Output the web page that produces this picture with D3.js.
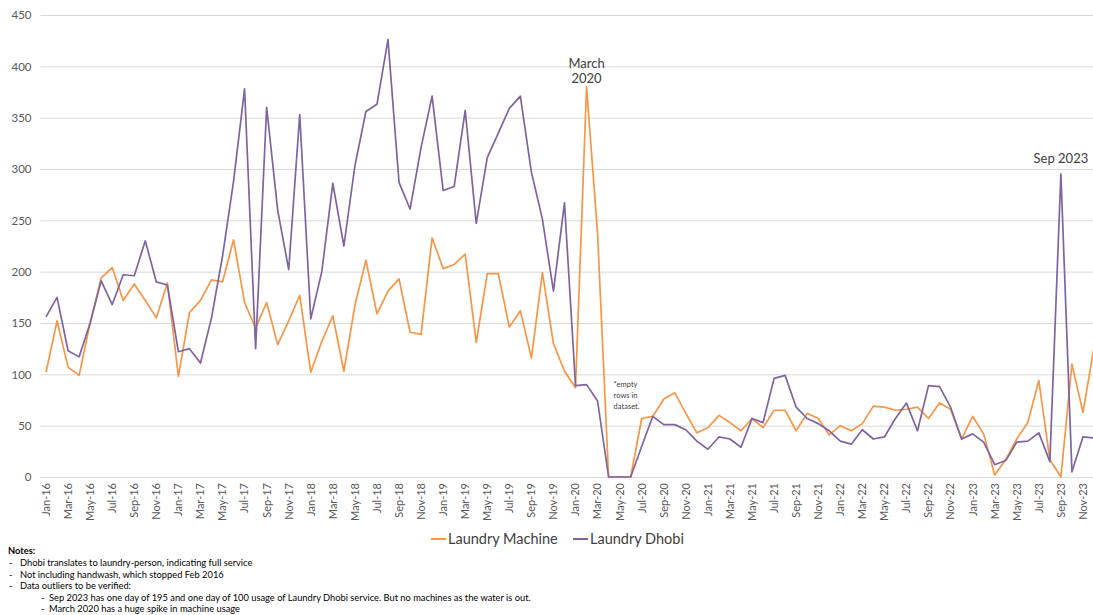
<!DOCTYPE html>
<html>
<head>
<meta charset="utf-8">
<script src="https://cdn.jsdelivr.net/npm/d3@7"></script>
<style>
  html, body { margin: 0; padding: 0; background: #fff; }
  svg { display: block; font-family: Lato, "Open Sans", sans-serif; }
</style>
</head>
<body>
<svg id="chart" width="1093" height="615"></svg>
<script>
// ---- data ----
const months = (function () {
  const m = ["Jan","Feb","Mar","Apr","May","Jun","Jul","Aug","Sep","Oct","Nov","Dec"];
  const out = [];
  for (let y = 16; y <= 23; y++) for (const mm of m) out.push(mm + "-" + y);
  return out;
})();

const laundryMachine = [
  // 2016
  102, 152, 107, 99, 150, 194, 204, 172, 188, 172, 155, 189,
  // 2017
  98, 160, 172, 192, 190, 231, 170, 145, 170, 129, 152, 177,
  // 2018
  102, 132, 157, 103, 167, 211, 159, 181, 193, 141, 139, 233,
  // 2019
  203, 207, 217, 131, 198, 198, 146, 162, 116, 199, 130, 103,
  // 2020
  87, 380, 237, 0, 0, 0, 57, 59, 76, 82, 62, 43,
  // 2021
  48, 60, 53, 45, 57, 48, 65, 65, 45, 62, 57, 41,
  // 2022
  50, 45, 52, 69, 68, 65, 66, 68, 57, 72, 66, 37,
  // 2023
  59, 42, 2, 17, 37, 53, 94, 17, 0, 110, 63, 126
];

const laundryDhobi = [
  // 2016
  156, 175, 123, 117, 150, 191, 168, 197, 196, 230, 190, 187,
  // 2017
  122, 125, 111, 155, 215, 288, 378, 125, 360, 260, 202, 353,
  // 2018
  154, 200, 286, 225, 303, 356, 363, 426, 287, 261, 321, 371,
  // 2019
  279, 283, 357, 247, 311, 335, 359, 371, 297, 251, 181, 267,
  // 2020
  89, 90, 74, 0, 0, 0, 30, 59, 51, 51, 46, 35,
  // 2021
  27, 39, 37, 29, 57, 53, 96, 99, 68, 57, 52, 45,
  // 2022
  35, 32, 46, 37, 39, 57, 72, 45, 89, 88, 68, 37,
  // 2023
  42, 34, 12, 16, 34, 35, 43, 15, 295, 5, 39, 38
];

const yTicks = [0, 50, 100, 150, 200, 250, 300, 350, 400, 450];
const xTickLabels = months.filter((d, i) => i % 2 === 0);

const seriesNames = ["Laundry Machine", "Laundry Dhobi"];
const seriesColors = ["#F79646", "#8064A2"];

const annotations = [
  { index: 49, lines: ["March", "2020"], gap: 4 },
  { index: 92, lines: ["Sep 2023"], gap: 11 }
];
const emptyNote = ["*empty", "rows in", "dataset."];

const notesTitle = "Notes:";
const notes = [
  { level: 1, text: "Dhobi translates to laundry-person, indicating full service" },
  { level: 1, text: "Not including handwash, which stopped Feb 2016" },
  { level: 1, text: "Data outliers to be verified:" },
  { level: 2, text: "Sep 2023 has one day of 195 and one day of 100 usage of Laundry Dhobi service. But no machines as the water is out." },
  { level: 2, text: "March 2020 has a huge spike in machine usage" }
];

// ---- layout ----
const svg = d3.select("#chart");
const plot = { left: 40.5, right: 1099.5, top: 15, bottom: 477 };

const x = d3.scaleBand().domain(months).range([plot.left, plot.right]).padding(0);
const xc = d => x(d) + x.bandwidth() / 2;
const y = d3.scaleLinear().domain([0, 450]).range([plot.bottom, plot.top]);

// gridlines + y labels
const yAxis = d3.axisLeft(y).tickValues(yTicks).tickSize(-(plot.right - plot.left)).tickPadding(9);
const gy = svg.append("g").attr("transform", `translate(${plot.left},0)`).call(yAxis);
gy.select(".domain").remove();
gy.selectAll(".tick line").attr("stroke", "#d9d9d9").attr("stroke-width", 1);
gy.selectAll(".tick text").attr("fill", "#595959").attr("font-size", 11.5)
  .attr("font-family", "Lato, sans-serif");

// x axis labels
const xAxis = d3.axisBottom(x).tickValues(xTickLabels).tickSize(0).tickPadding(0);
const gx = svg.append("g").attr("transform", `translate(0,${plot.bottom})`).call(xAxis);
gx.select(".domain").remove();
gx.selectAll(".tick text")
  .attr("fill", "#595959").attr("font-size", 11).attr("font-family", "Lato, sans-serif")
  .attr("text-anchor", "end")
  .attr("transform", "translate(0,6) rotate(-90)")
  .attr("dx", 0).attr("dy", "0.35em").attr("y", 0).attr("x", 0);

// lines
const series = [laundryMachine, laundryDhobi];
const line = d3.line().x((d, i) => xc(months[i])).y(d => y(d));
series.forEach((s, k) => {
  svg.append("path").datum(s)
    .attr("fill", "none")
    .attr("stroke", seriesColors[k])
    .attr("stroke-width", 1.7)
    .attr("stroke-linejoin", "round")
    .attr("d", line);
});

// annotations
annotations.forEach(a => {
  const px = xc(months[a.index]);
  const vals = series.map(s => s[a.index]);
  const top = y(d3.max(vals));
  const n = a.lines.length;
  a.lines.forEach((t, j) => {
    svg.append("text")
      .attr("x", px)
      .attr("y", top - a.gap - (n - 1 - j) * 15)
      .attr("text-anchor", "middle")
      .attr("font-size", 13)
      .attr("fill", "#404040")
      .text(t);
  });
});

// empty-rows note
emptyNote.forEach((t, j) => {
  svg.append("text")
    .attr("x", xc(months[51]) + 5)
    .attr("y", 386.5 + j * 11)
    .attr("font-size", 7.5)
    .attr("fill", "#404040")
    .text(t);
});

// legend
const legend = svg.append("g");
const legendItems = [{ x: 431, tx: 448 }, { x: 573, tx: 590 }];
seriesNames.forEach((name, k) => {
  legend.append("line")
    .attr("x1", legendItems[k].x).attr("x2", legendItems[k].x + 15)
    .attr("y1", 539).attr("y2", 539)
    .attr("stroke", seriesColors[k]).attr("stroke-width", 2);
  legend.append("text")
    .attr("x", legendItems[k].tx).attr("y", 544)
    .attr("font-size", 14.5).attr("fill", "#404040")
    .text(name);
});

// notes
svg.append("text").attr("x", 8).attr("y", 553.5)
  .attr("font-size", 9.3).attr("font-weight", "bold").attr("fill", "#000").text(notesTitle);
notes.forEach((n, j) => {
  const yy = 566 + j * 11.6;
  const dashX = n.level === 1 ? 9 : 41;
  const textX = n.level === 1 ? 20 : 49;
  svg.append("text").attr("x", dashX).attr("y", yy).attr("font-size", 9.3).attr("fill", "#000").text("-");
  svg.append("text").attr("x", textX).attr("y", yy).attr("font-size", 9.3).attr("fill", "#000").text(n.text);
});
</script>
</body>
</html>
